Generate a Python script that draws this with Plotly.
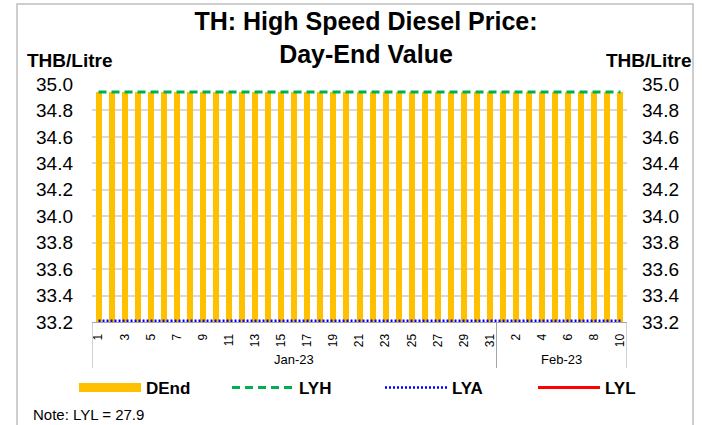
import plotly.graph_objects as go

# ---- data ----
jan_days = list(range(1, 32))
feb_days = list(range(1, 11))
months = ["Jan-23"] * len(jan_days) + ["Feb-23"] * len(feb_days)
days = jan_days + feb_days
dend = [34.94] * 41          # Day-end price
lyh = [34.94] * 41           # last-year high
lya = [33.21] * 41           # last-year average
lyl = [27.9] * 41            # last-year low (off scale)
tick_idx = [i for i, (m, d) in enumerate(zip(months, days))
            if (m == "Jan-23" and d % 2 == 1) or (m == "Feb-23" and d % 2 == 0)]
tick_txt = [str(days[i]) for i in tick_idx]
y_ticks = [33.2 + 0.2 * k for k in range(10)]
y_labels = ["%.1f" % v for v in y_ticks]

x = list(range(len(days)))

FONT = "Liberation Sans, Arial, sans-serif"
GRAY = "#a6a6a6"

fig = go.Figure()
fig.add_trace(go.Bar(x=x, y=dend, name="DEnd", marker=dict(color="#ffc000", line_width=0),
                     width=0.46, showlegend=False))
# legend proxy for the bar series (wide swatch)
fig.add_trace(go.Scatter(x=[None], y=[None], mode="lines", name="DEnd",
                         line=dict(color="#ffc000", width=9)))
fig.add_trace(go.Scatter(x=x, y=lyh, mode="lines", name="LYH",
                         line=dict(color="#00b050", width=3, dash="8px,5px")))
fig.add_trace(go.Scatter(x=x, y=lya, mode="lines", name="LYA",
                         line=dict(color="#0000ff", width=2.5, dash="2px,2px")))
fig.add_trace(go.Scatter(x=x, y=lyl, mode="lines", name="LYL", yaxis="y2",
                         line=dict(color="#ff0000", width=3)))

W, H = 702, 425
L, R, T, B = 92, 75, 84, 103
pw, ph = W - L - R, H - T - B

def px_x(p):
    return (p - L) / pw

def px_y(p):
    return (H - B - p) / ph

shapes = [
    dict(type="rect", xref="paper", yref="paper", x0=px_x(17), x1=px_x(693),
         y0=px_y(440), y1=px_y(4), line=dict(color="#bfbfbf", width=1.5), layer="below"),
]
for xv in [-0.5, 30.5, 40.5]:
    shapes.append(dict(type="line", xref="x", yref="paper", x0=xv, x1=xv,
                       y0=0, y1=px_y(368), line=dict(color=GRAY, width=1)))

annotations = [
    dict(text="THB/Litre", xref="paper", yref="paper", x=px_x(25), y=px_y(61),
         xanchor="left", yanchor="middle", showarrow=False,
         font=dict(family=FONT, size=19, color="black", weight="bold")),
    dict(text="THB/Litre", xref="paper", yref="paper", x=px_x(694), y=px_y(61),
         xanchor="right", yanchor="middle", showarrow=False,
         font=dict(family=FONT, size=19, color="black", weight="bold")),
    dict(text="Jan-23", xref="x", yref="paper", x=15, y=px_y(360),
         xanchor="center", yanchor="middle", showarrow=False,
         font=dict(family=FONT, size=13, color="black")),
    dict(text="Feb-23", xref="x", yref="paper", x=35.5, y=px_y(360),
         xanchor="center", yanchor="middle", showarrow=False,
         font=dict(family=FONT, size=13, color="black")),
    dict(text="Note: LYL = 27.9", xref="paper", yref="paper", x=px_x(31), y=px_y(414),
         xanchor="left", yanchor="middle", showarrow=False,
         font=dict(family=FONT, size=15, color="black")),
]

yaxis_common = dict(range=[33.2, 35.0], tickvals=y_ticks, ticktext=y_labels,
                    tickfont=dict(family=FONT, size=19, color="black"),
                    ticks="", zeroline=False, showline=False)

fig.update_layout(
    width=W, height=H,
    margin=dict(l=L, r=R, t=T, b=B, autoexpand=False),
    paper_bgcolor="white", plot_bgcolor="white",
    bargap=0,
    title=dict(text="TH: High Speed Diesel Price:<br>Day-End Value",
               x=366 / W, xanchor="center",
               y=1 - 30 / H, yanchor="top", yref="container",
               font=dict(family=FONT, size=25, color="black", weight="bold")),
    xaxis=dict(range=[-0.5, 40.5], tickvals=tick_idx, ticktext=tick_txt, tickangle=-90,
               tickfont=dict(family=FONT, size=12, color="black"), ticks="",
               showline=True, linecolor=GRAY, linewidth=1, showgrid=False,
               zeroline=False, ticklabelstandoff=6),
    yaxis=dict(**yaxis_common, showgrid=True, gridcolor="#d9d9d9", gridwidth=1.5,
               ticklabelstandoff=18),
    yaxis2=dict(**yaxis_common, overlaying="y", side="right", showgrid=False,
                ticklabelstandoff=14),
    showlegend=True,
    legend=dict(orientation="h", x=px_x(74), y=px_y(388), xanchor="left", yanchor="middle",
                itemwidth=62, entrywidthmode="pixels", entrywidth=76,
                font=dict(family=FONT, size=17, color="black", weight="bold"),
                bgcolor="rgba(0,0,0,0)", traceorder="normal", itemclick=False),
    shapes=shapes,
    annotations=annotations,
)

fig.write_html("out.html", config={"displayModeBar": False},
               post_script="document.body.style.margin='0px';")
